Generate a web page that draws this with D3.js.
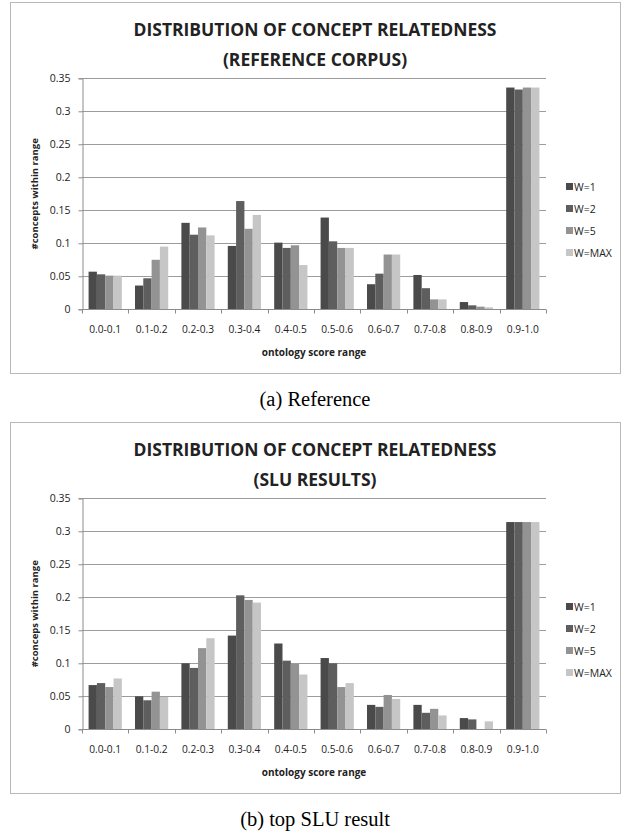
<!DOCTYPE html>
<html>
<head>
<meta charset="utf-8">
<script src="https://cdn.jsdelivr.net/npm/d3@7"></script>
<style>
  body { margin: 0; background: #fff; }
  svg text { font-family: "Open Sans", sans-serif; fill: #222; }
  .caption { font-family: "Liberation Serif", "Times New Roman", serif; font-size: 20.5px; fill: #000; }
</style>
</head>
<body>
<svg id="page" width="629" height="836"></svg>
<script>
// ---- data ----
var categories = ["0.0-0.1","0.1-0.2","0.2-0.3","0.3-0.4","0.4-0.5","0.5-0.6","0.6-0.7","0.7-0.8","0.8-0.9","0.9-1.0"];
var seriesNames = ["W=1","W=2","W=5","W=MAX"];
var yTicks = [0, 0.05, 0.1, 0.15, 0.2, 0.25, 0.3, 0.35];

// (a) reference corpus
var refW1   = [0.057, 0.036, 0.131, 0.096, 0.101, 0.139, 0.038, 0.052, 0.011, 0.336];
var refW2   = [0.053, 0.047, 0.113, 0.164, 0.093, 0.103, 0.054, 0.032, 0.006, 0.333];
var refW5   = [0.051, 0.075, 0.124, 0.122, 0.097, 0.093, 0.083, 0.015, 0.004, 0.336];
var refWMax = [0.051, 0.095, 0.112, 0.143, 0.067, 0.093, 0.083, 0.015, 0.003, 0.336];

// (b) SLU results
var sluW1   = [0.067, 0.050, 0.100, 0.142, 0.130, 0.108, 0.037, 0.037, 0.017, 0.314];
var sluW2   = [0.070, 0.044, 0.093, 0.203, 0.104, 0.100, 0.034, 0.025, 0.015, 0.314];
var sluW5   = [0.064, 0.057, 0.123, 0.196, 0.099, 0.064, 0.052, 0.031, 0.000, 0.314];
var sluWMax = [0.077, 0.049, 0.138, 0.192, 0.083, 0.070, 0.046, 0.021, 0.012, 0.314];

var colors = ["#4a4a4a", "#5e5e5e", "#939393", "#c6c6c6"];

var svg = d3.select("#page");

function rows(lists) {
    return categories.map(function(c, i) {
        return { cat: c, vals: lists.map(function(l, k) { return { name: seriesNames[k], v: l[i] }; }) };
    });
}

function drawChart(top, title2, yLabel, lists, caption) {
    var g = svg.append("g").attr("transform", "translate(0," + top + ")");

    // outer frame
    g.append("rect").attr("x", 10.5).attr("y", 2.5).attr("width", 610).attr("height", 371)
        .attr("fill", "#fff").attr("stroke", "#b8b8b8");

    // title
    g.append("text").attr("x", 315).attr("y", 36).attr("text-anchor", "middle")
        .style("font-weight", "bold").style("font-size", "17.5px").attr("fill", "#111").text("DISTRIBUTION OF CONCEPT RELATEDNESS");
    g.append("text").attr("x", 315).attr("y", 66).attr("text-anchor", "middle")
        .style("font-weight", "bold").style("font-size", "17.5px").attr("fill", "#111").text(title2);

    var left = 82, right = 546, y0 = 309.3, y1 = 78.3;
    var x0 = d3.scaleBand().domain(categories).range([left, right]);
    var gap = x0.bandwidth() * 0.142;
    var x1 = d3.scaleBand().domain(seriesNames).range([gap, x0.bandwidth() - gap]);
    var y = d3.scaleLinear().domain([0, 0.35]).range([y0, y1]);

    // gridlines
    g.append("g").selectAll("line").data(yTicks.slice(1)).enter().append("line")
        .attr("x1", left).attr("x2", right)
        .attr("y1", function(d) { return Math.round(y(d)) + 0.5; })
        .attr("y2", function(d) { return Math.round(y(d)) + 0.5; })
        .attr("stroke", "#9c9c9c");

    // bars
    var grp = g.append("g").selectAll("g").data(rows(lists)).enter().append("g")
        .attr("transform", function(d) { return "translate(" + x0(d.cat) + ",0)"; });
    grp.selectAll("rect").data(function(d) { return d.vals; }).enter().append("rect")
        .attr("x", function(d) { return x1(d.name); })
        .attr("width", x1.bandwidth())
        .attr("y", function(d) { return y(d.v); })
        .attr("height", function(d) { return y0 - y(d.v); })
        .attr("fill", function(d, i) { return colors[i]; });

    // y axis
    var yAxis = g.append("g").attr("transform", "translate(" + (left + 0.5) + ",0)")
        .call(d3.axisLeft(y).tickValues(yTicks).tickSize(4).tickPadding(8)
            .tickFormat(function(d) { return String(+d.toFixed(2)); }));
    yAxis.select(".domain").attr("stroke", "#8c8c8c");
    yAxis.selectAll(".tick line").attr("stroke", "#8c8c8c");
    yAxis.selectAll("text").style("font-size", "10.5px").attr("fill", "#222");

    // x axis: ticks sit at category boundaries
    var xAxis = g.append("g").attr("transform", "translate(0," + (Math.round(y0) + 0.5) + ")");
    xAxis.append("line").attr("x1", left).attr("x2", right).attr("stroke", "#8c8c8c");
    xAxis.selectAll("line.tk").data(categories.concat(["end"])).enter().append("line").attr("class", "tk")
        .attr("x1", function(d, i) { return Math.round(left + i * x0.step()) + 0.5; })
        .attr("x2", function(d, i) { return Math.round(left + i * x0.step()) + 0.5; })
        .attr("y1", 0).attr("y2", 4).attr("stroke", "#8c8c8c");
    xAxis.selectAll("text").data(categories).enter().append("text")
        .attr("x", function(d) { return x0(d) + x0.bandwidth() / 2; })
        .attr("y", 23).attr("text-anchor", "middle").style("font-size", "10.2px").text(function(d) { return d; });

    // axis titles
    g.append("text").attr("x", (left + right) / 2).attr("y", 356).attr("text-anchor", "middle")
        .style("font-weight", "bold").style("font-size", "10px").attr("fill", "#111").text("ontology score range");
    g.append("text").attr("transform", "translate(38," + ((y0 + y1) / 2) + ") rotate(-90)")
        .attr("text-anchor", "middle").style("font-weight", "bold").style("font-size", "9.5px").attr("fill", "#111").text(yLabel);

    // legend
    var lg = g.append("g").selectAll("g").data(seriesNames).enter().append("g")
        .attr("transform", function(d, i) { return "translate(566," + (186.5 + i * 22) + ")"; });
    lg.append("rect").attr("x", 0).attr("y", -3.5).attr("width", 7).attr("height", 7)
        .attr("fill", function(d, i) { return colors[i]; });
    lg.append("text").attr("x", 8).attr("y", 4).style("font-size", "10.5px").text(function(d) { return d; });

    // caption under the frame
    g.append("text").attr("class", "caption").attr("x", 315).attr("y", 406).attr("text-anchor", "middle").text(caption);
}

drawChart(0, "(REFERENCE CORPUS)", "#concepts within range", [refW1, refW2, refW5, refWMax], "(a)  Reference");
drawChart(420, "(SLU RESULTS)", "#conceps within range", [sluW1, sluW2, sluW5, sluWMax], "(b)  top SLU result");
</script>
</body>
</html>
